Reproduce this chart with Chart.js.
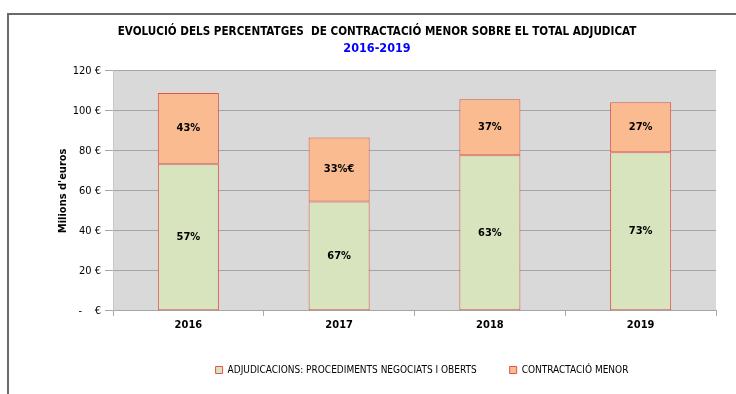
<!DOCTYPE html>
<html>
    <head>
        <title>Contractació menor 2016-2019</title>
        <meta charset="UTF-8">
        <style>
          body { margin: 0; background: #fff; }
          #wrap { position: relative; width: 736px; height: 394px; overflow: hidden; }
          /* grey frame round the chart, cut off at right and bottom */
          #frame { position: absolute; left: 7px; top: 13px; width: 800px; height: 500px;
                   border-top: 2px solid #6a6a6a; border-left: 2px solid #6a6a6a; pointer-events: none; }
        </style>
    </head>
    <body>
        <div id="wrap">
          <canvas id="barChart" width="736" height="394"></canvas>
          <div id="frame"></div>
        </div>
        <script src="https://cdn.jsdelivr.net/npm/chart.js/dist/chart.umd.min.js"></script>

        <script>
          //****************************** data ******************************//
          const years = ['2016', '2017', '2018', '2019'];
          const adjudicacions = [73.5, 54.7, 77.8, 79.3];   // milions d'euros
          const contractacioMenor = [35.5, 32.0, 28.0, 25.0]; // milions d'euros
          const pctAdjudicacions = ['57%', '67%', '63%', '73%'];
          const pctMenor = ['43%', '33%€', '37%', '27%'];
          const yTicks = [0, 20, 40, 60, 80, 100, 120];

          const FONT = "'Liberation Sans Narrow', 'DejaVu Sans Condensed', sans-serif";

          // grey plot area behind the bars
          const plotBackground = {
            id: 'plotBackground',
            beforeDraw(chart){
              const a = chart.chartArea;
              const ctx = chart.ctx;
              ctx.save();
              ctx.fillStyle = '#d9d9d9';
              ctx.fillRect(a.left, a.top, a.right - a.left, a.bottom - a.top);
              ctx.restore();
            }
          };

          // percentage written in the middle of every bar segment
          const segmentLabels = {
            id: 'segmentLabels',
            afterDatasetsDraw(chart){
              const ctx = chart.ctx;
              const texts = [pctAdjudicacions, pctMenor];
              ctx.save();
              ctx.font = 'bold 11px ' + FONT;
              ctx.fillStyle = '#000';
              ctx.textAlign = 'center';
              ctx.textBaseline = 'middle';
              chart.data.datasets.forEach((ds, d) => {
                chart.getDatasetMeta(d).data.forEach((bar, i) => {
                  ctx.fillText(texts[d][i], bar.x, (bar.y + bar.base) / 2);
                });
              });
              ctx.restore();
            }
          };

          // nudge the legend to the right, under the plot
          const legendShift = {
            id: 'legendShift',
            beforeDraw(chart){
              chart.legend.left += 45;
              chart.legend.right += 45;
              chart.legend.top -= 3;
              chart.legend.bottom -= 3;
            }
          };

          const CHART = document.getElementById('barChart');
          let barChart = new Chart(CHART, {
            type: 'bar',
            data: {
              labels: years,
              datasets: [
                {
                  label: 'ADJUDICACIONS: PROCEDIMENTS NEGOCIATS I OBERTS',
                  data: adjudicacions,
                  backgroundColor: '#d7e4bd',
                  borderColor: '#e0534b',
                  borderWidth: 1,
                  borderSkipped: false
                },
                {
                  label: 'CONTRACTACIÓ MENOR',
                  data: contractacioMenor,
                  backgroundColor: '#f9bb8f',
                  borderColor: '#e0534b',
                  borderWidth: 1,
                  borderSkipped: false
                }
              ]
            },
            options: {
              responsive: false,
              animation: false,
              layout: { padding: { left: 38, right: 20, top: 0, bottom: 6 } },
              datasets: { bar: { categoryPercentage: 1, barPercentage: 0.405 } },
              scales: {
                x: {
                  stacked: true,
                  border: { color: '#a6a6a6' },
                  grid: { drawOnChartArea: false, tickLength: 5, color: '#a6a6a6' },
                  ticks: { color: '#000', padding: 3, font: { family: FONT, size: 11, weight: 'bold' } }
                },
                y: {
                  stacked: true,
                  min: 0,
                  max: 120,
                  afterBuildTicks(scale){ scale.ticks = yTicks.map(v => ({ value: v })); },
                  afterFit(scale){ scale.width = 75; },
                  border: { color: '#c8c8c8' },
                  grid: { color: '#a6a6a6', tickLength: 8 },
                  ticks: {
                    color: '#000',
                    padding: 4,
                    font: { family: FONT, size: 11 },
                    callback: v => v === 0 ? '-    €' : v + ' €'
                  },
                  title: {
                    display: true,
                    text: "Milions d'euros",
                    color: '#000',
                    padding: { top: 19, bottom: 0 },
                    font: { family: FONT, size: 11, weight: 'bold' }
                  }
                }
              },
              plugins: {
                title: {
                  display: true,
                  text: 'EVOLUCIÓ DELS PERCENTATGES  DE CONTRACTACIÓ MENOR SOBRE EL TOTAL ADJUDICAT',
                  color: '#000',
                  padding: { top: 25, bottom: 2 },
                  font: { family: FONT, size: 11.6, weight: 'bold' }
                },
                subtitle: {
                  display: true,
                  text: '2016-2019',
                  color: '#0000ff',
                  padding: { top: 0, bottom: 15 },
                  font: { family: FONT, size: 12.5, weight: 'bold' }
                },
                legend: {
                  position: 'bottom',
                  labels: {
                    color: '#000',
                    boxWidth: 7,
                    boxHeight: 7,
                    padding: 33,
                    font: { family: FONT, size: 10 }
                  }
                },
                tooltip: { enabled: false }
              }
            },
            plugins: [plotBackground, segmentLabels, legendShift]
          });
        </script>
    </body>
</html>
